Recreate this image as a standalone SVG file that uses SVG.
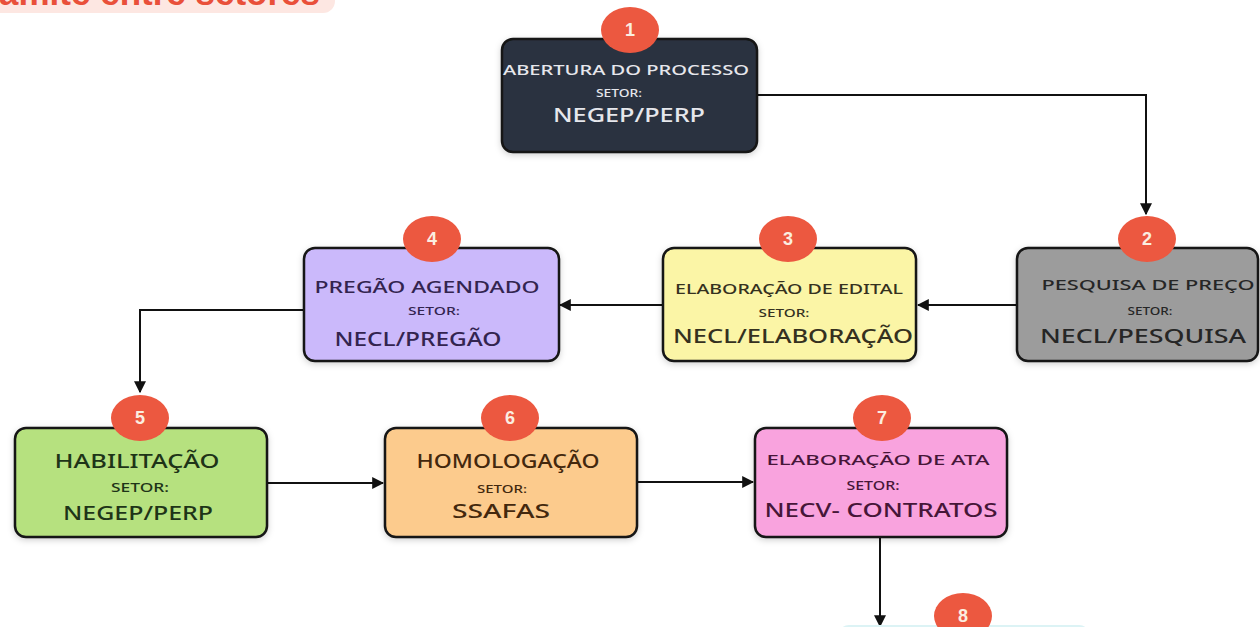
<svg xmlns="http://www.w3.org/2000/svg" width="1260" height="627" viewBox="0 0 1260 627">
<defs>
<marker id="arr" viewBox="0 0 10 10" refX="9" refY="5" markerWidth="6" markerHeight="6" orient="auto" markerUnits="strokeWidth">
<path d="M0,0 L10,5 L0,10 z" fill="#111"/>
</marker>
<filter id="sh" x="-10%" y="-10%" width="120%" height="130%">
<feDropShadow dx="0" dy="2" stdDeviation="3" flood-color="#000" flood-opacity="0.18"/>
</filter>
</defs>
<style>
text{font-family:"Noto Sans","Open Sans","Liberation Sans",sans-serif;text-anchor:middle;font-weight:500}
.box{stroke:#151515;stroke-width:2.5;filter:url(#sh)}
.badge{fill:#ec5840}
.num{font-family:"Liberation Sans",Arial,sans-serif;font-weight:bold;font-size:18px;fill:#fbeee0}
.conn{fill:none;stroke:#111;stroke-width:2;marker-end:url(#arr)}
.t1{font-size:15px}
.t2{font-size:11px}
.t3{font-size:19px}
</style>
<rect width="1260" height="627" fill="#ffffff"/>

<g id="title">
<rect x="-20" y="-30" width="355" height="43" rx="12" fill="#fde7e2"/>
<text x="320" y="5" style="font-family:'Liberation Sans',Arial,sans-serif;font-weight:bold;font-size:35px;fill:#e9503a;text-anchor:end">Trâmite entre setores</text>
</g>

<g id="connectors">
<path class="conn" d="M757 95 H1146 V214"/>
<path class="conn" d="M1017 305 H918"/>
<path class="conn" d="M663 305 H560"/>
<path class="conn" d="M303 310 H140 V392"/>
<path class="conn" d="M267 483 H383"/>
<path class="conn" d="M637 482 H753"/>
<path class="conn" d="M880 537 V626"/>
</g>

<g id="node1">
<rect class="box" x="502" y="39" width="255" height="113" rx="11" fill="#2b3040"/>
<ellipse class="badge" cx="630" cy="30" rx="29" ry="23"/>
<text class="num" x="630" y="36">1</text>
<text class="t1" x="626" y="75" textLength="246" lengthAdjust="spacingAndGlyphs" fill="#e6e7ec">ABERTURA DO PROCESSO</text>
<text class="t2" x="619" y="97" textLength="46" lengthAdjust="spacingAndGlyphs" fill="#e6e7ec">SETOR:</text>
<text class="t3" x="629" y="122" textLength="152" lengthAdjust="spacingAndGlyphs" fill="#e6e7ec">NEGEP/PERP</text>
</g>

<g id="node2">
<rect class="box" x="1017" y="248" width="241" height="113" rx="11" fill="#9c9c9c"/>
<ellipse class="badge" cx="1147" cy="239" rx="29" ry="23"/>
<text class="num" x="1147" y="245">2</text>
<text class="t1" x="1148" y="290" textLength="213" lengthAdjust="spacingAndGlyphs" fill="#262626">PESQUISA DE PREÇO</text>
<text class="t2" x="1150" y="315" textLength="45" lengthAdjust="spacingAndGlyphs" fill="#262626">SETOR:</text>
<text class="t3" x="1143" y="343" textLength="206" lengthAdjust="spacingAndGlyphs" fill="#262626">NECL/PESQUISA</text>
</g>

<g id="node3">
<rect class="box" x="663" y="248" width="253" height="113" rx="11" fill="#fbf5a6"/>
<ellipse class="badge" cx="788" cy="239" rx="29" ry="23"/>
<text class="num" x="788" y="245">3</text>
<text class="t1" x="789" y="294" textLength="228" lengthAdjust="spacingAndGlyphs" fill="#35311f">ELABORAÇÃO DE EDITAL</text>
<text class="t2" x="784" y="317" textLength="51" lengthAdjust="spacingAndGlyphs" fill="#35311f">SETOR:</text>
<text class="t3" x="793" y="343" textLength="240" lengthAdjust="spacingAndGlyphs" fill="#35311f" style="font-size:20px">NECL/ELABORAÇÃO</text>
</g>

<g id="node4">
<rect class="box" x="304" y="248" width="255" height="113" rx="11" fill="#cbb9fb"/>
<ellipse class="badge" cx="432" cy="239" rx="29" ry="23"/>
<text class="num" x="432" y="245">4</text>
<text class="t1" x="427" y="293" textLength="225" lengthAdjust="spacingAndGlyphs" fill="#33244f" style="font-size:17px">PREGÃO AGENDADO</text>
<text class="t2" x="434" y="315" textLength="52" lengthAdjust="spacingAndGlyphs" fill="#33244f">SETOR:</text>
<text class="t3" x="418" y="346" textLength="167" lengthAdjust="spacingAndGlyphs" fill="#33244f" style="font-size:20px">NECL/PREGÃO</text>
</g>

<g id="node5">
<rect class="box" x="15" y="428" width="252" height="109" rx="11" fill="#b6e17f"/>
<ellipse class="badge" cx="140" cy="418" rx="29" ry="23"/>
<text class="num" x="140" y="424">5</text>
<text class="t3" x="137" y="468" textLength="165" lengthAdjust="spacingAndGlyphs" fill="#1e3418">HABILITAÇÃO</text>
<text class="t2" x="140" y="492" textLength="58" lengthAdjust="spacingAndGlyphs" fill="#1e3418" style="font-size:12px">SETOR:</text>
<text class="t3" x="138" y="520" textLength="150" lengthAdjust="spacingAndGlyphs" fill="#1e3418">NEGEP/PERP</text>
</g>

<g id="node6">
<rect class="box" x="385" y="428" width="252" height="109" rx="11" fill="#fccb8d"/>
<ellipse class="badge" cx="510" cy="418" rx="29" ry="23"/>
<text class="num" x="510" y="424">6</text>
<text class="t3" x="508" y="468" textLength="183" lengthAdjust="spacingAndGlyphs" fill="#43280e">HOMOLOGAÇÃO</text>
<text class="t2" x="502" y="493" textLength="50" lengthAdjust="spacingAndGlyphs" fill="#43280e">SETOR:</text>
<text class="t3" x="501" y="518" textLength="98" lengthAdjust="spacingAndGlyphs" fill="#43280e" style="font-size:20px">SSAFAS</text>
</g>

<g id="node7">
<rect class="box" x="755" y="428" width="252" height="109" rx="11" fill="#f9a3de"/>
<ellipse class="badge" cx="882" cy="418" rx="29" ry="23"/>
<text class="num" x="882" y="424">7</text>
<text class="t1" x="878" y="465" textLength="223" lengthAdjust="spacingAndGlyphs" fill="#461638">ELABORAÇÃO DE ATA</text>
<text class="t2" x="873" y="490" textLength="53" lengthAdjust="spacingAndGlyphs" fill="#461638" style="font-size:12px">SETOR:</text>
<text class="t3" x="881" y="517" textLength="233" lengthAdjust="spacingAndGlyphs" fill="#461638">NECV- CONTRATOS</text>
</g>

<g id="node8">
<rect x="838" y="625" width="252" height="40" rx="11" fill="#dcf3f5"/>
<ellipse class="badge" cx="963" cy="616" rx="29" ry="23"/>
<text class="num" x="963" y="622">8</text>
</g>
</svg>
